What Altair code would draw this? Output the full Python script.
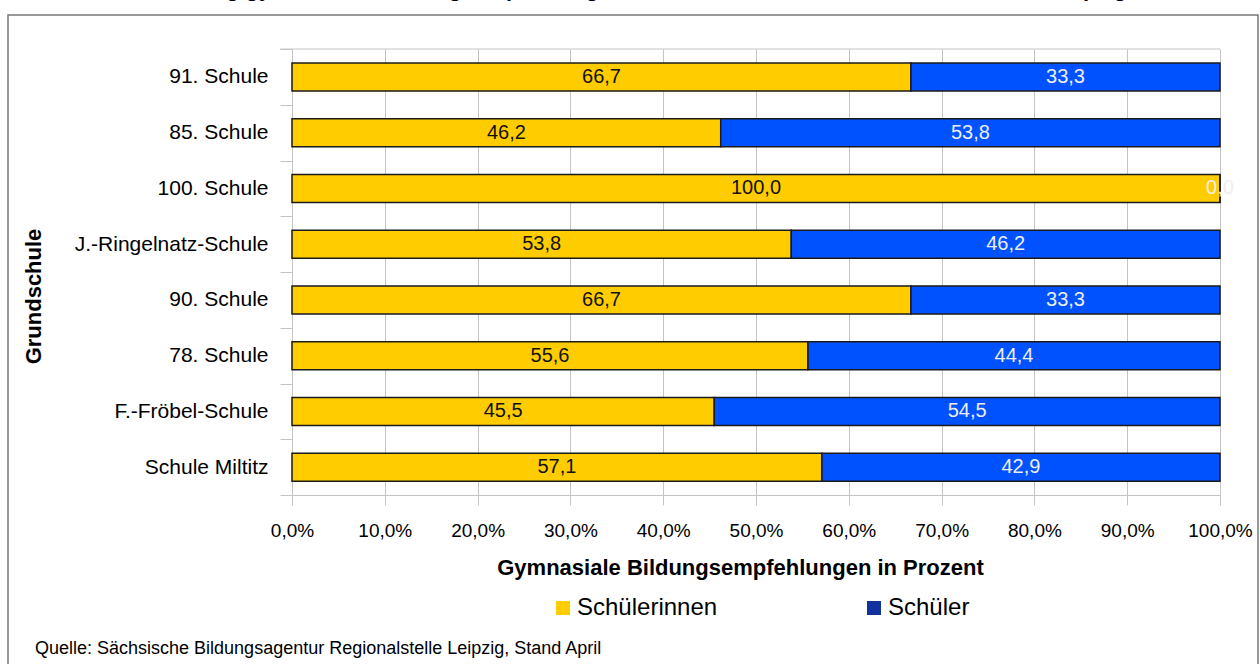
import altair as alt
import pandas as pd

schools = ["91. Schule", "85. Schule", "100. Schule", "J.-Ringelnatz-Schule",
           "90. Schule", "78. Schule", "F.-Fröbel-Schule", "Schule Miltitz"]
girls = [66.7, 46.2, 100.0, 53.8, 66.7, 55.6, 45.5, 57.1]
boys = [33.3, 53.8, 0.0, 46.2, 33.3, 44.4, 54.5, 42.9]
series = ["Schülerinnen", "Schüler"]
bar_colors = ["#FFCC00", "#0052FF"]
legend_colors = ["#FFCC00", "#10329A"]
tick_values = [0, 10, 20, 30, 40, 50, 60, 70, 80, 90, 100]

title_text = "Verteilung gymnasialer Bildungsempfehlungen nach Geschlecht an den Grundschulen, Leipzig"
source_text = "Quelle: Sächsische Bildungsagentur Regionalstelle Leipzig, Stand April"

rows = []
for s, g, b in zip(schools, girls, boys):
    rows.append({"school": s, "sex": series[0], "value": g, "ord": 0,
                 "label": f"{g:.1f}".replace(".", ",")})
    rows.append({"school": s, "sex": series[1], "value": b, "ord": 1,
                 "label": f"{b:.1f}".replace(".", ",")})
df = pd.DataFrame(rows)

FONT = "Liberation Sans"
GRID = "#c4c4c4"
W, H = 928, 446

y_enc = alt.Y(
    "school:N", sort=schools,
    scale=alt.Scale(paddingInner=0, paddingOuter=0),
    axis=alt.Axis(
        title="Grundschule", titleFont=FONT, titleFontSize=22, titleFontWeight="bold",
        titleColor="#000", titleAngle=270, titleAlign="center", titleBaseline="middle",
        titleX=-259, titleY=247,
        labelFont=FONT, labelFontSize=21, labelColor="#000", labelPadding=12, labelLimit=0,
        tickBand="extent", tickSize=12, tickColor=GRID, domain=False, grid=False,
    ),
)

x_axis = alt.Axis(
    values=tick_values,
    labelExpr="replace(format(datum.value, '.1f'), '.', ',') + '%'",
    labelFont=FONT, labelFontSize=19, labelColor="#000", labelPadding=16,
    labelFlush=False, labelOverlap=False,
    tickSize=10, tickColor=GRID, domainColor=GRID, gridColor=GRID,
    title="Gymnasiale Bildungsempfehlungen in Prozent", titleFont=FONT,
    titleFontSize=22, titleFontWeight="bold", titleColor="#000", titlePadding=17,
    titleX=448,
)

base = alt.Chart(df)

bars = base.mark_bar(stroke="#1a1a1a", strokeWidth=1.5, size=28).encode(
    y=y_enc,
    x=alt.X("value:Q", stack="zero", scale=alt.Scale(domain=[0, 100]), axis=x_axis),
    fill=alt.Fill("sex:N", scale=alt.Scale(domain=series, range=bar_colors), legend=None),
    order=alt.Order("ord:Q"),
)

legend_layer = base.mark_square(size=0, filled=True, opacity=1).encode(
    x=alt.value(0), y=alt.value(0),
    color=alt.Color(
        "sex:N", scale=alt.Scale(domain=series, range=legend_colors),
        legend=alt.Legend(
            title=None, orient="none", legendX=259, legendY=547, direction="horizontal",
            columns=2, columnPadding=144, symbolType="square", symbolSize=196,
            symbolStrokeWidth=0, symbolOpacity=1, labelFont=FONT, labelFontSize=24,
            labelColor="#000", labelOffset=2, padding=0,
        ),
    ),
)

labels = base.transform_stack(
    stack="value", groupby=["school"], as_=["x0", "x1"], sort=[alt.SortField("ord")]
).transform_calculate(mid="(datum.x0 + datum.x1) / 2").mark_text(
    font=FONT, fontSize=20, baseline="middle", align="center"
).encode(
    y=alt.Y("school:N", sort=schools),
    x=alt.X("mid:Q"),
    text="label:N",
    color=alt.condition(f"datum.sex == '{series[1]}'", alt.value("#eeeeee"), alt.value("#111111")),
)

one = alt.Chart(pd.DataFrame({"a": [0]}))
top_line = one.mark_rule(color=GRID, strokeWidth=1).encode(
    x=alt.value(-12), x2=alt.value(W), y=alt.value(0)
)
frame = one.mark_rect(fill="transparent", stroke="#777777", strokeWidth=1.5).encode(
    x=alt.value(-284), x2=alt.value(966), y=alt.value(-34), y2=alt.value(640)
)
title = one.mark_text(font=FONT, fontSize=22, fontWeight="bold", align="center",
                      baseline="alphabetic", color="#000").encode(
    x=alt.value(338), y=alt.value(-53), text=alt.value(title_text)
)
source = one.mark_text(font=FONT, fontSize=18, align="left", baseline="alphabetic",
                       color="#000").encode(
    x=alt.value(-257), y=alt.value(605), text=alt.value(source_text)
)

chart = alt.layer(frame, top_line, legend_layer, bars, labels, title, source).properties(
    width=W, height=H,
    autosize=alt.AutoSizeParams(type="none"),
    padding={"left": 292, "top": 49, "right": 40, "bottom": 169},
    background="white",
).configure_view(stroke=None)

chart.save("out.html", embed_options={"renderer": "svg", "actions": False})
